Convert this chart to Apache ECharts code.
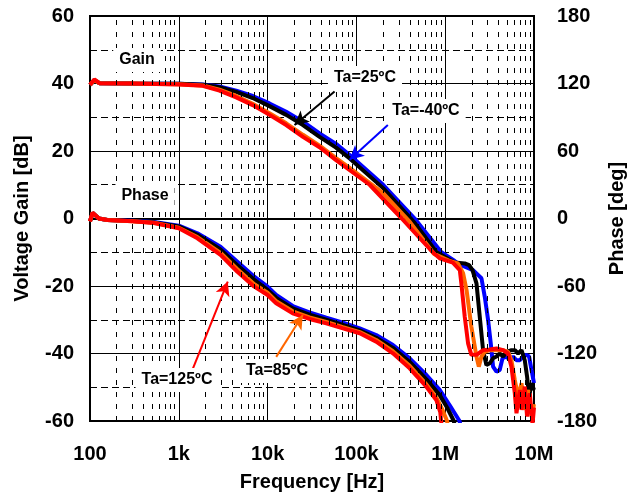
<!DOCTYPE html>
<html>
<head>
<meta charset="utf-8">
<script src="https://cdn.jsdelivr.net/npm/echarts@6/dist/echarts.min.js"></script>
<style>
  html, body { margin: 0; padding: 0; background: #fff; }
  #chart { width: 637px; height: 495px; }
</style>
</head>
<body>
<div id="chart"></div>
<script>
// frequency ticks (Hz) and their labels
const xTickLabels = ['100', '1k', '10k', '100k', '1M', '10M']

// voltage gain [dB], pairs of [Hz, dB]
const gainM40 = [[100, 39.6], [112, 41.0], [128, 40.1], [300, 40.0], [1000, 39.9], [1860, 39.7], [2870, 39.1], [4430, 37.9], [6800, 36.3], [10500, 34.1], [16200, 31.6], [25000, 28.7], [38500, 25.2], [59000, 22.1], [84000, 18.8], [200000, 10], [453000, 0], [906000, -10], [1280000, -12.6], [1420000, -13.5], [2060000, -15.3], [2340000, -16.7], [2560000, -17.7], [2790000, -23.2], [3040000, -30.1], [3260000, -37], [3460000, -43.9], [3780000, -45.4], [4110000, -44.9], [4420000, -41.4], [4900000, -40.9], [5330000, -42], [5810000, -40.9], [6350000, -42], [6920000, -42], [7530000, -40.9], [8220000, -40.4], [8810000, -40.9], [9380000, -44.9], [10000000, -48.8]]
const gain25 = [[100, 39.6], [112, 41.0], [128, 40.1], [300, 40.0], [1000, 39.9], [1860, 39.6], [2870, 38.9], [4430, 37.5], [6800, 35.7], [10500, 33.3], [16200, 30.7], [25000, 27.7], [38500, 24.2], [59000, 21.0], [84000, 17.8], [200000, 9], [453000, -1.3], [800000, -10], [1280000, -13], [1660000, -13.3], [1860000, -13.8], [2030000, -15.3], [2250000, -19.2], [2450000, -29.1], [2670000, -39], [2910000, -43.4], [3180000, -42.9], [3460000, -41.4], [3780000, -40.9], [4110000, -40], [4490000, -40.9], [4900000, -39.5], [5580000, -39], [6090000, -39], [6620000, -40], [7230000, -39], [7870000, -42], [8360000, -46.9], [8810000, -52.8], [9380000, -48.8], [10000000, -50.8]]
const gain85 = [[100, 39.6], [112, 41.0], [128, 40.1], [300, 40.0], [1000, 39.8], [1860, 39.4], [2870, 38.2], [4430, 36.3], [6800, 34.0], [10500, 31.2], [16200, 28.2], [25000, 24.8], [38500, 21.6], [59000, 17.9], [84000, 15.0], [200000, 7.5], [400000, -1], [750000, -10.5], [1100000, -12.5], [1390000, -13.3], [1590000, -16.2], [1740000, -21.2], [1970000, -32], [2250000, -40.9], [2390000, -43.9], [2560000, -40.9], [2790000, -39.5], [3180000, -39], [3780000, -39], [4490000, -39], [5100000, -39.5], [5570000, -42], [6080000, -47.9], [6620000, -52.8], [7230000, -48.8], [7870000, -56.7], [8590000, -50.8], [9380000, -58.7], [10000000, -55]]
const gain125 = [[100, 39.6], [112, 41.2], [128, 40.1], [300, 40.0], [1000, 39.7], [1860, 39.3], [2870, 37.9], [4430, 35.9], [6800, 33.6], [10500, 30.7], [16200, 27.7], [25000, 24.2], [38500, 21.1], [59000, 17.3], [141000, 10], [324000, 0], [724000, -10], [867000, -11.8], [1220000, -13.1], [1460000, -15.3], [1520000, -19.2], [1660000, -29.1], [1810000, -37], [1970000, -40.4], [2250000, -40.4], [2670000, -39], [3180000, -38.8], [3780000, -38.5], [4490000, -39], [5100000, -40], [5570000, -43.9], [6080000, -51.8], [6350000, -57.7], [6920000, -50.8], [7240000, -56.7], [7870000, -49.8], [8360000, -58.7], [8970000, -51.8], [9620000, -61], [10000000, -56]]

// phase [deg], pairs of [Hz, deg]
const phaseM40 = [[100, -2.5], [107, 5], [126, 0], [157, -1.3], [300, -2], [525, -3.2], [1000, -6.4], [1620, -13.2], [2950, -25.1], [4570, -38.4], [7080, -51.7], [10000, -60.5], [12500, -68], [19200, -77.8], [29600, -83.4], [45800, -88.2], [70500, -92.6], [109000, -97.6], [167000, -103.6], [258000, -112.4], [398000, -124.3], [614000, -139.1], [867000, -152.4], [1120000, -165.8], [1450000, -180], [1550000, -190]]
const phase25 = [[100, -2.5], [107, 5], [126, 0], [157, -1.3], [300, -2.2], [525, -3.5], [1000, -7], [1620, -14.5], [2950, -27.5], [4570, -41.5], [7080, -54.5], [10000, -63.5], [12500, -70.5], [19200, -80], [29600, -85.5], [45800, -90], [70500, -94.5], [109000, -99.5], [167000, -106], [258000, -115], [398000, -127.5], [614000, -143], [867000, -157], [1050000, -168], [1250000, -180], [1330000, -190]]
const phase85 = [[100, -2.5], [107, 5], [126, 0], [157, -1.3], [300, -2.4], [525, -3.8], [1000, -8.2], [1620, -16.5], [2950, -30.5], [4570, -45], [7080, -58.5], [10000, -66], [12500, -73.5], [19200, -82.5], [29600, -88], [45800, -92], [70500, -96.5], [109000, -101], [167000, -108], [258000, -118], [398000, -131], [614000, -147.5], [794000, -159], [930000, -170], [1050000, -180], [1090000, -190]]
const phase125 = [[100, -2.5], [107, 5.2], [126, 0], [157, -1.3], [300, -2.5], [525, -4], [1000, -8.7], [1620, -17.6], [2950, -32.4], [4570, -47.3], [7080, -60.6], [10000, -68], [12500, -75.4], [19200, -84.3], [29600, -89.3], [45800, -93.2], [70500, -97.6], [109000, -102], [167000, -109.5], [258000, -119.8], [398000, -133.2], [614000, -149.5], [794000, -161.3], [880000, -172], [905000, -182], [915000, -192]]

const FONT = 'Liberation Sans'
const chart = echarts.init(document.getElementById('chart'))

// dashed vertical lines at 2..9 of every decade
const minorFreqs = []
for (let e = 2; e < 7; e++) {
  for (let d = 2; d <= 9; d++) minorFreqs.push(d * Math.pow(10, e))
}

function curve (name, data, color, yAxisIndex, arrow) {
  const s = {
    name: name,
    type: 'line',
    data: data,
    yAxisIndex: yAxisIndex,
    showSymbol: false,
    symbol: 'none',
    clip: true,
    lineStyle: { color: color, width: 4 },
    z: 3
  }
  if (arrow) {
    s.markLine = {
      silent: true,
      symbol: ['none', 'arrow'],
      symbolSize: [11, 14],
      label: { show: false },
      lineStyle: { color: color, width: 2, type: 'solid' },
      data: [[{ coord: arrow[0] }, { coord: arrow[1] }]],
      z: 6
    }
  }
  return s
}

function label (text, x, y) {
  return {
    type: 'text',
    x: x,
    y: y,
    z: 10,
    style: {
      text: text,
      align: 'center',
      verticalAlign: 'middle',
      font: 'bold 16px ' + FONT,
      fill: '#000',
      backgroundColor: '#fff',
      padding: [4, 6]
    }
  }
}

const option = {
  animation: false,
  backgroundColor: '#fff',
  grid: {
    left: 90,
    right: 103,
    top: 16,
    bottom: 74,
    outerBoundsMode: 'none',
    containLabel: false,
    show: true,
    borderColor: '#000',
    borderWidth: 2
  },
  xAxis: {
    type: 'log',
    logBase: 10,
    min: 100,
    max: 10000000,
    name: 'Frequency [Hz]',
    nameLocation: 'middle',
    nameGap: 51,
    nameTextStyle: { fontFamily: FONT, fontWeight: 'bold', fontSize: 20, color: '#000' },
    axisLine: { lineStyle: { color: '#000', width: 2 } },
    axisTick: { show: false },
    axisLabel: {
      margin: 23,
      fontFamily: FONT,
      fontWeight: 'bold',
      fontSize: 20,
      color: '#000',
      formatter: function (v) { return xTickLabels[Math.round(Math.log10(v)) - 2] }
    },
    splitLine: { show: true, lineStyle: { color: '#000', width: 1 } }
  },
  yAxis: [
    {
      type: 'value',
      min: -60,
      max: 60,
      interval: 20,
      position: 'left',
      name: 'Voltage Gain [dB]',
      nameLocation: 'middle',
      nameRotate: 90,
      nameGap: 58,
      nameTextStyle: { fontFamily: FONT, fontWeight: 'bold', fontSize: 20, color: '#000' },
      axisLine: { show: true, lineStyle: { color: '#000', width: 2 } },
      axisTick: { show: false },
      axisLabel: { margin: 16, fontFamily: FONT, fontWeight: 'bold', fontSize: 20, color: '#000' },
      splitLine: { show: true, lineStyle: { color: '#000', width: 1 } },
      minorTick: { show: false, splitNumber: 2 },
      minorSplitLine: { show: true, lineStyle: { color: '#000', width: 1, type: [7, 4] } }
    },
    {
      type: 'value',
      min: -180,
      max: 180,
      interval: 60,
      position: 'right',
      name: 'Phase [deg]',
      nameLocation: 'middle',
      nameRotate: 90,
      nameGap: 70,
      nameTextStyle: { fontFamily: FONT, fontWeight: 'bold', fontSize: 20, color: '#000' },
      axisLine: { show: true, lineStyle: { color: '#000', width: 2 } },
      axisTick: { show: false },
      axisLabel: { margin: 23, fontFamily: FONT, fontWeight: 'bold', fontSize: 20, color: '#000' },
      splitLine: { show: false }
    }
  ],
  graphic: [
    label('Gain', 137, 60),
    label('Phase', 145, 196),
    label('Ta=25ºC', 365, 78),
    label('Ta=-40ºC', 426, 111),
    label('Ta=85ºC', 277, 371),
    label('Ta=125ºC', 177, 380)
  ],
  series: [
    {
      name: 'grid',
      type: 'line',
      data: [],
      z: 1,
      markLine: {
        silent: true,
        symbol: 'none',
        label: { show: false },
        lineStyle: { color: '#000', width: 1, type: [5, 7] },
        data: minorFreqs.map(f => ({ xAxis: f }))
      }
    },
    curve('Gain -40', gainM40, '#0000ff', 0, [[226000, 27.7], [84000, 17.4]]),
    curve('Phase -40', phaseM40, '#0000ff', 1),
    curve('Gain 25', gain25, '#000000', 0, [[56800, 37.6], [20100, 27.7]]),
    curve('Phase 25', phase25, '#000000', 1),
    curve('Gain 85', gain85, '#ff6600', 0, [[12500, -41], [24900, -28.6]]),
    curve('Phase 85', phase85, '#ff6600', 1),
    curve('Gain 125', gain125, '#ff0000', 0, [[1390, -45.5], [3560, -18.7]]),
    curve('Phase 125', phase125, '#ff0000', 1)
  ]
}
chart.setOption(option)
</script>
</body>
</html>
